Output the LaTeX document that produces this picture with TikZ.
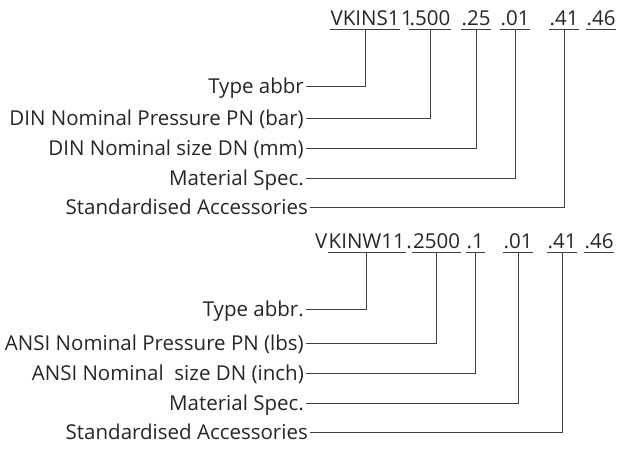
\documentclass[tikz,border=0pt]{standalone}
\usepackage{fontspec}
\setmainfont{Open Sans}
\usepackage{tikz}
\usetikzlibrary{positioning}
\tikzset{
  lbl/.style={font=\fontsize{20.5}{24}\selectfont, text=black!85, anchor=east,
    inner xsep=2pt, inner ysep=0pt, text height=14pt, text depth=0pt},
  code/.style={font=\fontsize{20.5}{24}\selectfont, text=black!85, anchor=base west,
    inner xsep=0.5pt, inner ysep=0pt, text height=14pt, text depth=4pt},
  uline/.style={draw=black!75, line width=0.8pt},
  ucode/.style={code, append after command={(\tikzlastnode.south west) edge[uline] (\tikzlastnode.south east)}},
  lead/.style={draw=black!75, line width=0.8pt}
}

\begin{document}
\begin{tikzpicture}[x=1pt, y=1pt]
    \useasboundingbox (0,0) rectangle (618,-448);

    % DIN code
    \node[ucode] (ka) at (330,-25) {VKINS1};
    \node[code] (kb) at (ka.base east) {1};
    \node[ucode] (kc) at (409,-25) {.500};
    \node[ucode] (kd) at (461,-25) {.25};
    \node[ucode] (ke) at (500,-25) {.01};
    \node[ucode] (kf) at (549,-25) {.41};
    \node[ucode] (kg) at (586,-25) {.46};

    % DIN labels
    \node[lbl] (ta) at (306,-86) {Type abbr};
    \node[lbl] (tb) at (306,-118) {DIN Nominal Pressure PN (bar)};
    \node[lbl] (tc) at (306,-148) {DIN Nominal size DN (mm)};
    \node[lbl] (td) at (306,-178) {Material Spec.};
    \node[lbl] (te) at (310,-207) {Standardised Accessories};

    \draw[lead] (ta.east) -| (ka.south);
    \draw[lead] (tb.east) -| (kc.south);
    \draw[lead] (tc.east) -| (kd.south);
    \draw[lead] (td.east) -| (ke.south);
    \draw[lead] (te.east) -| (kf.south);

    % ANSI code
    \node[ucode] (wb) at (328,-248) {KINW11};
    \node[code, anchor=base east] (wa) at (wb.base west) {V};
    \node[code] (wc) at (wb.base east) {.};
    \node[ucode] (wd) at (wc.base east) {2500};
    \node[ucode] (we) at (466,-248) {.1\hspace{0.6em}};
    \node[ucode] (wf) at (503,-248) {.01};
    \node[ucode] (wg) at (547,-248) {.41};
    \node[ucode] (wh) at (584,-248) {.46};

    % ANSI labels
    \node[lbl] (ba) at (306,-309) {Type abbr.};
    \node[lbl] (bb) at (306,-343) {ANSI Nominal Pressure PN (lbs)};
    \node[lbl] (bc) at (306,-373) {ANSI Nominal~ size DN (inch)};
    \node[lbl] (bd) at (306,-403) {Material Spec.};
    \node[lbl] (be) at (310,-432) {Standardised Accessories};

    \draw[lead] (ba.east) -| (wb.south);
    \draw[lead] (bb.east) -| (wd.south);
    \draw[lead] (bc.east) -| (we.south);
    \draw[lead] (bd.east) -| (wf.south);
    \draw[lead] (be.east) -| (wg.south);
\end{tikzpicture}
\end{document}
